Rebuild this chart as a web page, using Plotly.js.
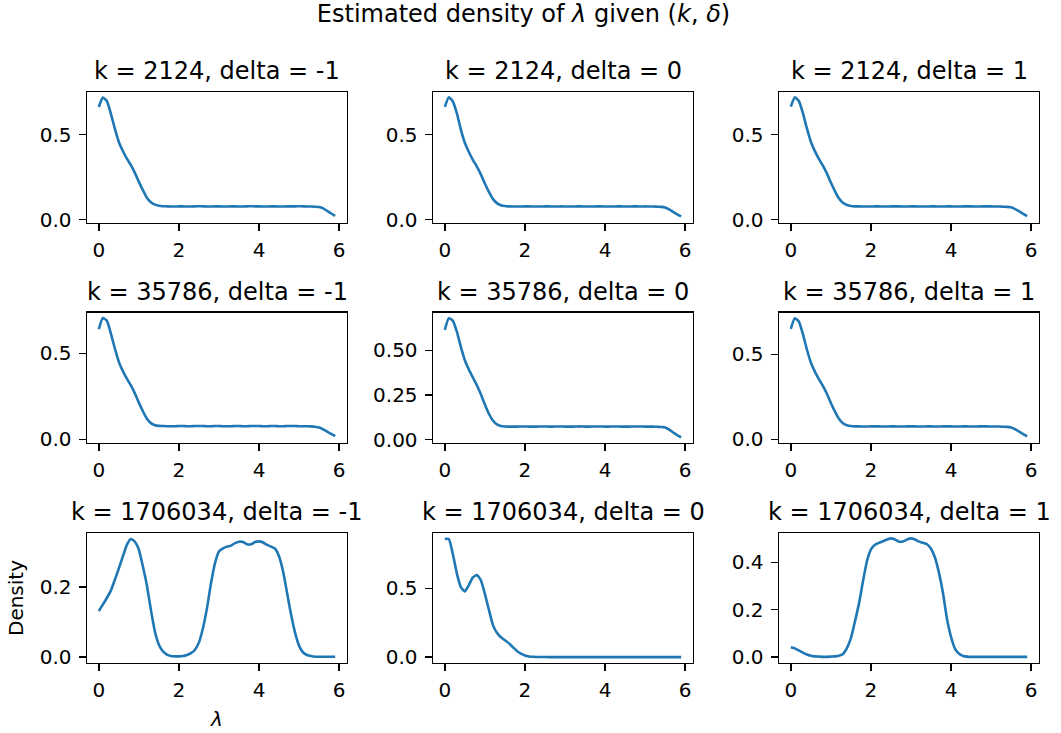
<!DOCTYPE html>
<html>
<head>
<meta charset="utf-8">
<script src="https://cdn.plot.ly/plotly-3.0.1.min.js"></script>
<style>
  html, body { margin: 0; padding: 0; background: #fff; }
  #chart { width: 1061px; height: 733px; }
</style>
</head>
<body>
<div id="chart"></div>
<script>
// ---------------- data ----------------
const kValues = [2124, 35786, 1706034];
const deltaValues = [-1, 0, 1];

const lambdaGrid = [
  0.0, 0.1, 0.2, 0.3, 0.4, 0.5, 0.6, 0.7, 0.8, 0.9,
  1.0, 1.1, 1.2, 1.3, 1.4, 1.5, 1.6, 1.7, 1.8, 1.9,
  2.0, 2.1, 2.2, 2.3, 2.4, 2.5, 2.6, 2.7, 2.8, 2.9,
  3.0, 3.1, 3.2, 3.3, 3.4, 3.5, 3.6, 3.7, 3.8, 3.9,
  4.0, 4.1, 4.2, 4.3, 4.4, 4.5, 4.6, 4.7, 4.8, 4.9,
  5.0, 5.1, 5.2, 5.3, 5.4, 5.5, 5.6, 5.7, 5.8, 5.9
];

const density_k2124_dm1 = [
  0.663, 0.718, 0.698, 0.624, 0.535, 0.457, 0.404, 0.359, 0.320, 0.275,
  0.222, 0.173, 0.129, 0.102, 0.088, 0.082, 0.079, 0.078, 0.077, 0.077,
  0.078, 0.078, 0.077, 0.077, 0.078, 0.079, 0.078, 0.077, 0.077, 0.078,
  0.078, 0.077, 0.077, 0.078, 0.078, 0.077, 0.077, 0.078, 0.079, 0.078,
  0.078, 0.077, 0.077, 0.078, 0.078, 0.077, 0.077, 0.078, 0.078, 0.078,
  0.079, 0.078, 0.077, 0.077, 0.076, 0.074, 0.066, 0.051, 0.036, 0.022
];
const density_k2124_d0 = [
  0.663, 0.720, 0.695, 0.626, 0.530, 0.452, 0.398, 0.352, 0.312, 0.266,
  0.212, 0.163, 0.122, 0.097, 0.085, 0.080, 0.078, 0.077, 0.077, 0.077,
  0.078, 0.078, 0.077, 0.077, 0.077, 0.078, 0.078, 0.077, 0.077, 0.078,
  0.077, 0.077, 0.077, 0.078, 0.078, 0.077, 0.077, 0.077, 0.078, 0.078,
  0.077, 0.077, 0.077, 0.078, 0.078, 0.077, 0.077, 0.078, 0.078, 0.077,
  0.078, 0.077, 0.077, 0.076, 0.075, 0.071, 0.060, 0.045, 0.031, 0.019
];
const density_k2124_dp1 = [
  0.665, 0.720, 0.698, 0.628, 0.538, 0.458, 0.403, 0.358, 0.318, 0.272,
  0.218, 0.168, 0.125, 0.099, 0.086, 0.080, 0.078, 0.078, 0.077, 0.077,
  0.077, 0.078, 0.078, 0.077, 0.077, 0.078, 0.078, 0.078, 0.077, 0.077,
  0.078, 0.078, 0.077, 0.077, 0.077, 0.078, 0.078, 0.077, 0.077, 0.078,
  0.078, 0.077, 0.077, 0.078, 0.078, 0.078, 0.077, 0.077, 0.078, 0.078,
  0.078, 0.077, 0.077, 0.076, 0.075, 0.072, 0.062, 0.048, 0.034, 0.021
];
const density_k35786_dm1 = [
  0.640, 0.705, 0.690, 0.616, 0.528, 0.450, 0.396, 0.352, 0.313, 0.267,
  0.213, 0.163, 0.120, 0.094, 0.082, 0.078, 0.077, 0.076, 0.076, 0.076,
  0.077, 0.077, 0.076, 0.076, 0.077, 0.077, 0.077, 0.076, 0.076, 0.077,
  0.077, 0.076, 0.076, 0.076, 0.077, 0.077, 0.076, 0.076, 0.077, 0.077,
  0.077, 0.076, 0.076, 0.077, 0.077, 0.076, 0.076, 0.077, 0.077, 0.077,
  0.076, 0.076, 0.076, 0.075, 0.073, 0.068, 0.058, 0.044, 0.031, 0.019
];
const density_k35786_d0 = [
  0.615, 0.680, 0.667, 0.605, 0.520, 0.445, 0.393, 0.348, 0.305, 0.254,
  0.197, 0.145, 0.107, 0.086, 0.077, 0.074, 0.073, 0.073, 0.073, 0.074,
  0.074, 0.073, 0.073, 0.073, 0.074, 0.074, 0.073, 0.073, 0.074, 0.074,
  0.073, 0.073, 0.073, 0.074, 0.074, 0.073, 0.073, 0.074, 0.074, 0.074,
  0.073, 0.073, 0.074, 0.074, 0.073, 0.073, 0.073, 0.074, 0.074, 0.074,
  0.073, 0.073, 0.073, 0.072, 0.071, 0.068, 0.056, 0.040, 0.026, 0.013
];
const density_k35786_dp1 = [
  0.650, 0.712, 0.693, 0.620, 0.530, 0.452, 0.398, 0.354, 0.314, 0.268,
  0.214, 0.164, 0.121, 0.095, 0.083, 0.078, 0.076, 0.076, 0.075, 0.075,
  0.076, 0.076, 0.076, 0.075, 0.075, 0.076, 0.076, 0.075, 0.075, 0.076,
  0.076, 0.076, 0.075, 0.075, 0.076, 0.076, 0.075, 0.075, 0.076, 0.076,
  0.076, 0.075, 0.075, 0.076, 0.076, 0.075, 0.075, 0.076, 0.076, 0.076,
  0.075, 0.075, 0.075, 0.074, 0.073, 0.069, 0.059, 0.045, 0.031, 0.018
];
const density_k1706034_dm1 = [
  0.132, 0.150, 0.169, 0.190, 0.221, 0.254, 0.288, 0.321, 0.338, 0.330,
  0.307, 0.259, 0.205, 0.135, 0.073, 0.035, 0.016, 0.007, 0.003, 0.002,
  0.002, 0.003, 0.006, 0.011, 0.021, 0.042, 0.083, 0.140, 0.211, 0.269,
  0.302, 0.311, 0.316, 0.319, 0.326, 0.330, 0.329, 0.323, 0.323, 0.329,
  0.331, 0.328, 0.321, 0.316, 0.310, 0.288, 0.245, 0.183, 0.121, 0.069,
  0.032, 0.013, 0.006, 0.003, 0.001, 0.001, 0.001, 0.001, 0.001, 0.001
];
const density_k1706034_d0 = [
  0.860, 0.860, 0.750, 0.610, 0.510, 0.478, 0.525, 0.580, 0.598, 0.560,
  0.460, 0.345, 0.235, 0.178, 0.145, 0.123, 0.100, 0.072, 0.045, 0.025,
  0.012, 0.005, 0.002, 0.001, 0.001, 0.001, 0.000, 0.000, 0.000, 0.000,
  0.000, 0.000, 0.000, 0.000, 0.000, 0.000, 0.000, 0.000, 0.000, 0.000,
  0.000, 0.000, 0.000, 0.000, 0.000, 0.000, 0.000, 0.000, 0.000, 0.000,
  0.000, 0.000, 0.000, 0.000, 0.000, 0.000, 0.000, 0.000, 0.000, 0.000
];
const density_k1706034_dp1 = [
  0.042, 0.037, 0.028, 0.019, 0.011, 0.006, 0.003, 0.002, 0.001, 0.001,
  0.002, 0.003, 0.006, 0.013, 0.038, 0.080, 0.150, 0.225, 0.320, 0.405,
  0.455, 0.475, 0.483, 0.490, 0.497, 0.502, 0.497, 0.488, 0.489, 0.497,
  0.502, 0.497, 0.488, 0.483, 0.477, 0.458, 0.420, 0.355, 0.269, 0.160,
  0.085, 0.035, 0.014, 0.005, 0.002, 0.001, 0.001, 0.001, 0.001, 0.001,
  0.001, 0.001, 0.001, 0.001, 0.001, 0.001, 0.001, 0.001, 0.001, 0.001
];

const xTickValues = [0, 2, 4, 6];
const yTickValues = [
  [0, 0.5], [0, 0.5], [0, 0.5],
  [0, 0.5], [0, 0.25, 0.5], [0, 0.5],
  [0, 0.2], [0, 0.5], [0, 0.2, 0.4]
];
const yTickFormats = ['.1f', '.1f', '.1f', '.1f', '.2f', '.1f', '.1f', '.1f', '.1f'];

const densitySeries = [
  density_k2124_dm1, density_k2124_d0, density_k2124_dp1,
  density_k35786_dm1, density_k35786_d0, density_k35786_dp1,
  density_k1706034_dm1, density_k1706034_d0, density_k1706034_dp1
];

// ---------------- layout geometry (pixels) ----------------
const W = 1061, H = 733;
const colPx = [[87, 347], [433, 693], [779, 1039]];
const rowPx = [[92, 223], [312.7, 442.7], [533, 663]];
const yRanges = [
  [-0.02, 0.751], [-0.02, 0.751], [-0.02, 0.751],
  [-0.02, 0.736], [-0.017, 0.711], [-0.02, 0.745],
  [-0.017, 0.355], [-0.043, 0.904], [-0.025, 0.5246]
];
const FONT = 'DejaVu Sans, Verdana, sans-serif';
const TICK_FONT = 20;
const TITLE_FONT = 24;

const traces = [];
const layout = {
  width: W, height: H,
  margin: {l: 0, r: 0, t: 0, b: 0, pad: 0},
  paper_bgcolor: '#ffffff',
  plot_bgcolor: '#ffffff',
  showlegend: false,
  font: {family: FONT, color: '#000000', size: TICK_FONT},
  title: {
    text: 'Estimated density of <i>λ</i> given (<i>k</i>, <i>δ</i>)',
    font: {family: FONT, size: TITLE_FONT, color: '#000000'},
    x: 523.5 / W, xanchor: 'center', xref: 'paper',
    y: 1 - 5 / H, yanchor: 'top', yref: 'container'
  },
  annotations: []
};

for (let r = 0; r < 3; r++) {
  for (let c = 0; c < 3; c++) {
    const i = r * 3 + c;
    const n = i === 0 ? '' : String(i + 1);
    traces.push({
      type: 'scatter', mode: 'lines',
      x: lambdaGrid, y: densitySeries[i],
      xaxis: 'x' + n, yaxis: 'y' + n,
      line: {color: '#1f77b4', width: 2.6, shape: 'spline', smoothing: 0.5},
      hoverinfo: 'x+y'
    });
    const xd = [colPx[c][0] / W, colPx[c][1] / W];
    const yd = [1 - rowPx[r][1] / H, 1 - rowPx[r][0] / H];
    const common = {
      showline: true, mirror: true, linecolor: '#000000', linewidth: 1.4,
      ticks: 'outside', ticklen: 7, tickwidth: 1.4, tickcolor: '#000000',
      showgrid: false, zeroline: false,
      tickfont: {family: FONT, size: TICK_FONT, color: '#000000'},
      fixedrange: true
    };
    layout['xaxis' + n] = Object.assign({}, common, {
      domain: xd, anchor: 'y' + n, range: [-0.295, 6.195],
      tickmode: 'array', tickvals: xTickValues, ticklabelstandoff: 2
    });
    layout['yaxis' + n] = Object.assign({}, common, {
      domain: yd, anchor: 'x' + n, range: yRanges[i],
      tickmode: 'array', tickvals: yTickValues[i], tickformat: yTickFormats[i],
      ticklabelstandoff: 3
    });
    layout.annotations.push({
      text: 'k = ' + kValues[r] + ', delta = ' + deltaValues[c],
      xref: 'paper', yref: 'paper',
      x: (xd[0] + xd[1]) / 2, y: yd[1],
      xanchor: 'center', yanchor: 'bottom', yshift: 5,
      showarrow: false,
      font: {family: FONT, size: TITLE_FONT, color: '#000000'}
    });
  }
}

layout.xaxis7.title = {text: '<i>λ</i>', font: {family: FONT, size: TICK_FONT, color: '#000000'}, standoff: 10};
layout.yaxis7.title = {text: 'Density', font: {family: FONT, size: TICK_FONT, color: '#000000'}, standoff: 10};

Plotly.newPlot('chart', traces, layout, {displayModeBar: false, staticPlot: true});
</script>
</body>
</html>
